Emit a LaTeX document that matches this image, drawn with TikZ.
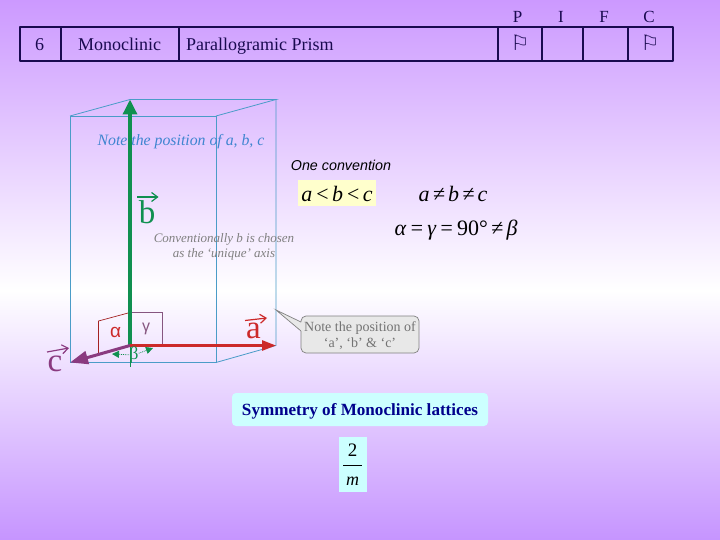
\documentclass[tikz,border=0pt]{standalone}
\usepackage{fontspec}
\setmainfont{Liberation Serif}
\setsansfont{Liberation Sans}
\newfontfamily\flagfont{DejaVu Sans}
\usetikzlibrary{arrows.meta}
\definecolor{bgp}{HTML}{CC99FF}
\definecolor{ink}{HTML}{1A0A50}
\definecolor{edgeb}{HTML}{4A9CC8}
\definecolor{grnb}{HTML}{109050}
\definecolor{redb}{HTML}{CC2A2A}
\definecolor{purb}{HTML}{8A3A80}
\definecolor{cyanb}{HTML}{CCFFFF}
\definecolor{yelb}{HTML}{FFFFCC}
\tikzset{
  x=1pt,y=-1pt,
  rule/.style={draw=ink,line width=2pt},
  celltxt/.style={text=ink,font=\fontsize{18}{20}\selectfont,inner sep=0pt,anchor=base},
  hdr/.style={text=ink,font=\fontsize{17}{18}\selectfont,inner sep=0pt,anchor=base},
  flagtxt/.style={text=ink,font=\flagfont\fontsize{21}{22}\selectfont,inner sep=0pt},
  prism/.style={draw=edgeb,line width=0.8pt},
  axb/.style={draw=grnb,line width=3.4pt,-{Triangle[length=15pt,width=14pt]}},
  axa/.style={draw=redb,line width=2.6pt,-{Triangle[length=14pt,width=10pt]}},
  axc/.style={draw=purb,line width=3pt,-{Triangle[length=18pt,width=13pt]}},
  veclab/.style={font=\fontsize{33}{34}\selectfont,inner sep=0pt,anchor=base},
  vecarr/.style={line width=1.2pt,-{Straight Barb[length=6pt,width=9pt]}},
  mathtxt/.style={text=black,font=\fontsize{22}{24}\selectfont\itshape,inner sep=0pt},
  betaarr/.style={draw=grnb,line width=0.8pt,densely dotted,-{Triangle[length=7pt,width=7pt]}}
}
\newcommand{\mgap}{\hspace{2.4pt}}
\newcommand{\mgapw}{\hspace{3.2pt}}
\begin{document}
\begin{tikzpicture}
\useasboundingbox (0,0) rectangle (720,540);
\path[top color=bgp,bottom color=white] (0,0) rectangle (720,291);
\path[top color=white,bottom color=bgp!97!blue] (0,290) rectangle (720,540);

% table
\coordinate (tl) at (20,27); \coordinate (tr) at (673,27);
\coordinate (bl) at (20,61); \coordinate (br) at (673,61);
\draw[rule,line cap=round,line join=round] (tl) -- (tr) -- (br) -- (bl) -- cycle;
\foreach \n/\X in {v1/61,v2/179,v3/498,v4/542,v5/583,v6/628}{
  \coordinate (\n t) at (\X,27); \coordinate (\n b) at (\X,61);
  \draw[rule] (\n t) -- (\n b);
}
\node[celltxt] (n6) at (39.5,50.5) {6};
\node[celltxt] (mono) at (119.5,50.5) {Monoclinic};
\node[celltxt,anchor=base west] (para) at (186,50.5) {Parallogramic Prism};
\node[hdr] (hp) at (517.5,22.5) {P};
\node[hdr] (hi) at (561,22.5) {I};
\node[hdr] (hf) at (604,22.5) {F};
\node[hdr] (hc) at (649,22.5) {C};
\node[flagtxt] (fp) at (520,43) {⚐};
\node[flagtxt] (fc) at (650,43) {⚐};

% prism
\coordinate (f1) at (70,116); \coordinate (f2) at (216,116);
\coordinate (f3) at (216,362.5); \coordinate (f4) at (70,362.5);
\coordinate (b1) at (130,99.5); \coordinate (b2) at (276,99.5);
\coordinate (b3) at (276,345.5); \coordinate (o) at (130,345.5);
\coordinate (ob) at (130,367);
\draw[prism] (f1) -- (f2) -- (f3) -- (f4) -- cycle;
\draw[prism] (f1) -- (b1) -- (b2) -- (f2);
\draw[prism] (b2) -- (b3) -- (f3);

% angle boxes
\coordinate (al1) at (98.5,353); \coordinate (al2) at (98.5,321); \coordinate (al3) at (130,312.5);
\coordinate (ga1) at (162,312.5); \coordinate (ga2) at (162,345.5);
\draw[draw=redb!80!black,line width=0.7pt] (al1) -- (al2) -- (al3);
\draw[draw=purb!60!gray,line width=0.7pt] (al3) -- (ga1) -- (ga2);
\draw[grnb,line width=0.8pt] (o) -- (ob);

% axes
\draw[axb] (o) -- (b1);
\draw[axa] (o) -- (b3);
\draw[axc] (o) -- (f4);

% beta
\node[text=grnb,font=\fontsize{18}{18}\selectfont,inner sep=0pt] (beta) at (134,355) {β};
\coordinate (bl1) at (112,354); \coordinate (bl2) at (153,348);
\draw[betaarr] (beta) -- (bl1);
\draw[betaarr] (beta) -- (bl2);
\node[text=redb,font=\sffamily\fontsize{19}{20}\selectfont,inner sep=0pt] (alpha) at (115.5,332) {α};
\node[text=purb!60!gray,font=\sffamily\fontsize{16}{17}\selectfont,inner sep=0pt] (gamma) at (146,329) {γ};

% vector labels
\node[veclab,text=grnb] (lb) at (147,224) {b};
\coordinate (lb1) at (137,197); \coordinate (lb2) at (158.5,197);
\draw[vecarr,grnb] (lb1) -- (lb2);
\node[veclab,text=redb] (la) at (253.5,338) {a};
\coordinate (la1) at (245,320.5); \coordinate (la2) at (267,318);
\draw[vecarr,redb] (la1) -- (la2);
\node[veclab,text=purb] (lc) at (55,371) {c};
\coordinate (lc1) at (47,352); \coordinate (lc2) at (69,348);
\draw[vecarr,purb] (lc1) -- (lc2);

% texts
\node[text=edgeb!85!blue,font=\fontsize{15.8}{17}\selectfont\itshape,inner sep=0pt,anchor=base] (note) at (181,146) {Note the position of a, b, c};
\node[text=black!50,font=\fontsize{13}{15}\selectfont\itshape,align=center,inner sep=0pt] (conv) at (224,247) {Conventionally b is chosen\\as the ‘unique’ axis};
\node[text=black,font=\sffamily\fontsize{14.3}{15}\selectfont\itshape,inner sep=0pt] (one) at (341,165) {One convention};

\node[fill=yelb,minimum width=78pt,minimum height=26pt,inner sep=0pt] (yb) at (337,193) {};
\node[mathtxt] (m1) at (337,194) {a\mgap<\mgap b\mgap<\mgap c};
\node[mathtxt] (m2) at (453,194) {a\mgapw≠\mgapw b\mgapw≠\mgapw c};
\node[mathtxt] (m3) at (456,230) {α\mgapw=\mgapw γ\mgapw=\mgapw\textup{90°}\mgapw≠\mgapw β};

% callout
\coordinate (tip) at (276,310);
\coordinate (ct1) at (301,322); \coordinate (ct2) at (301,331);
\fill[black!9,rounded corners=5pt] (301,316) rectangle (419,353);
\fill[black!9] (ct1) -- (tip) -- (ct2) -- cycle;
\draw[gray,line width=0.7pt] (ct2) -- (tip) -- (ct1);
\draw[gray,line width=0.7pt,rounded corners=5pt] (301,322) -- (301,316) -- (419,316) -- (419,353) -- (301,353) -- (301,331);
\node[text=black!55,font=\fontsize{14}{16}\selectfont,align=center,inner sep=0pt] (callout) at (360,336) {Note the position of\\‘a’, ‘b’ \& ‘c’};

% symmetry
\node[fill=cyanb,rounded corners=4pt,minimum width=256pt,minimum height=33pt,inner sep=0pt] (sym) at (360,409.5) {};
\node[text=blue!55!black,font=\fontsize{17.1}{20}\selectfont\bfseries,inner sep=0pt,anchor=base] (symt) at (360,415) {Symmetry of Monoclinic lattices};
\node[fill=cyanb,minimum width=28pt,minimum height=55pt,inner sep=0pt] (fr) at (353,464.5) {};
\node[text=black,font=\fontsize{19}{20}\selectfont,inner sep=0pt] (two) at (352.5,450) {2};
\node[text=black,font=\fontsize{18}{20}\selectfont\itshape,inner sep=0pt] (mm) at (352.5,481) {m};
\coordinate (fl) at (343,465); \coordinate (fe) at (362,465);
\draw[black,line width=0.7pt] (fl) -- (fe);
\end{tikzpicture}
\end{document}
